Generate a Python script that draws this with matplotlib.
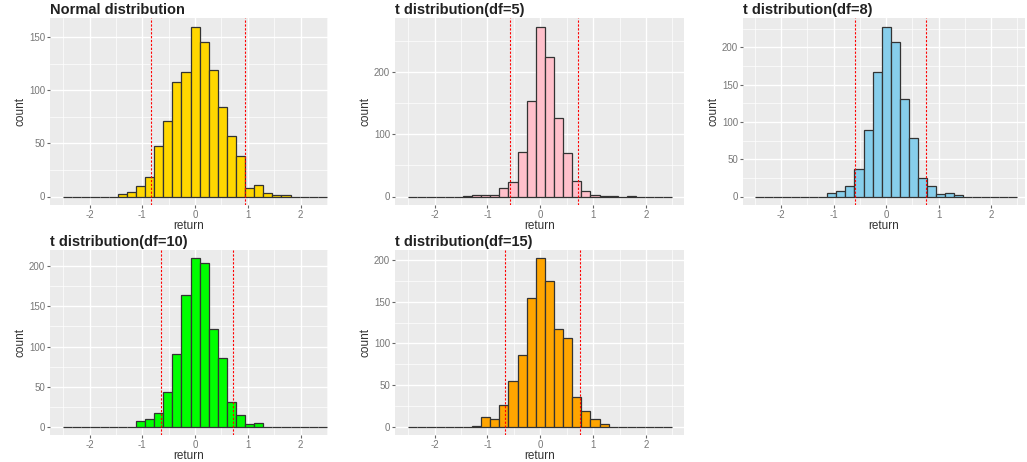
import numpy as np
import matplotlib
matplotlib.use("Agg")
import matplotlib.pyplot as plt

plt.rcParams["font.family"] = ["Liberation Sans", "DejaVu Sans"]

# 29 bins spanning -2.5 .. 2.5 (ggplot style, 0 is a bin centre)
bin_edges = np.linspace(-2.5, 2.5, 30)

titles = [
    "Normal distribution",
    "t distribution(df=5)",
    "t distribution(df=8)",
    "t distribution(df=10)",
    "t distribution(df=15)",
]

counts_normal = [0, 0, 0, 0, 0, 0, 2, 4, 10, 18, 48, 71, 108, 117, 160,
                 145, 119, 84, 57, 38, 8, 11, 3, 1, 1, 0, 0, 0, 0]
counts_df5 = [0, 0, 0, 0, 0, 0, 1, 3, 3, 3, 14, 23, 71, 154, 274,
              225, 126, 70, 25, 9, 3, 1, 1, 0, 1, 0, 0, 0, 0]
counts_df8 = [0, 0, 0, 0, 0, 0, 0, 0, 5, 8, 14, 37, 89, 167, 228,
              207, 131, 78, 25, 14, 3, 5, 2, 0, 0, 0, 0, 0, 0]
counts_df10 = [0, 0, 0, 0, 0, 0, 0, 0, 7, 9, 17, 43, 91, 164, 210,
               204, 122, 86, 31, 14, 3, 5, 0, 0, 0, 0, 0, 0, 0]
counts_df15 = [0, 0, 0, 0, 0, 0, 0, 1, 11, 9, 26, 55, 86, 155, 202,
               175, 117, 107, 35, 19, 9, 3, 0, 0, 0, 0, 0, 0, 0]

all_counts = [counts_normal, counts_df5, counts_df8, counts_df10, counts_df15]
fill_colors = ["#FFD700", "#FFC0CB", "#87CEEB", "#00FF00", "#FFA500"]

# red dotted quantile lines (lower, upper)
vlines = [(-0.83, 0.94), (-0.57, 0.72), (-0.59, 0.76), (-0.65, 0.72), (-0.67, 0.76)]

y_steps = [50, 100, 50, 50, 50]

# axes boxes in pixels: left, top, right, bottom, and x range shown
W, H = 1027, 462
boxes = [
    (50, 18, 328, 205),
    (395, 18, 684, 205),
    (743, 18, 1025, 205),
    (50, 250, 328, 435),
    (395, 250, 684, 435),
]
xranges = [(-2.75, 2.52), (-2.75, 2.72), (-2.73, 2.65), (-2.75, 2.52), (-2.75, 2.72)]

fig = plt.figure(figsize=(W / 100, H / 100), dpi=100)

for i, (l, t, r, b) in enumerate(boxes):
    ax = fig.add_axes([l / W, 1 - b / H, (r - l) / W, (b - t) / H])
    ax.set_facecolor("#EBEBEB")
    counts = all_counts[i]
    ax.bar(bin_edges[:-1], counts, width=np.diff(bin_edges), align="edge",
           color=fill_colors[i], edgecolor="#333333", linewidth=0.9, zorder=3)
    for xv in vlines[i]:
        ax.axvline(xv, color="red", linestyle=(0, (2, 1.5)), linewidth=0.8, zorder=4)

    ymax = max(counts)
    ax.set_xlim(*xranges[i])
    ax.set_ylim(-0.05 * ymax, 1.05 * ymax)
    ax.set_xticks([-2, -1, 0, 1, 2])
    ax.set_xticks([-2.5, -1.5, -0.5, 0.5, 1.5, 2.5], minor=True)
    yt = np.arange(0, ymax + 1, y_steps[i])
    ax.set_yticks(yt)
    minors = list(yt[:-1] + y_steps[i] / 2)
    if ymax * 1.05 > yt[-1] + y_steps[i] / 2:
        minors.append(yt[-1] + y_steps[i] / 2)
    ax.set_yticks(minors, minor=True)
    ax.set_xticklabels(["-2", "-1", "0", "1", "2"])
    ax.grid(which="major", color="white", linewidth=1.0, zorder=0)
    ax.grid(which="minor", color="white", linewidth=0.5, zorder=0)
    ax.set_axisbelow(True)
    for s in ax.spines.values():
        s.set_visible(False)
    ax.tick_params(which="major", length=2.5, color="#666666", labelsize=7,
                   labelcolor="#777777", pad=1)
    ax.tick_params(which="minor", length=0)
    ax.set_xlabel("return", fontsize=8.5, color="#333333", labelpad=0)
    ax.set_ylabel("count", fontsize=8.5, color="#333333", labelpad=2)
    ax.set_title(titles[i], loc="left", fontsize=10.5, fontweight="bold",
                 color="#222222", pad=3)

fig.savefig("out.png", dpi=100, facecolor="white")
